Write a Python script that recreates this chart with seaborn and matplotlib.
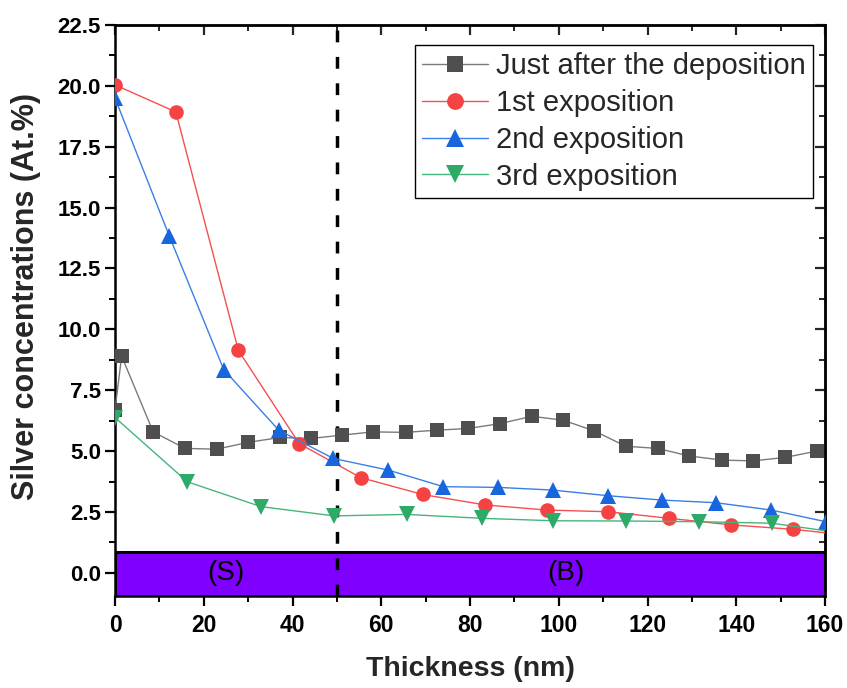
import matplotlib
matplotlib.use("Agg")
import matplotlib.pyplot as plt
import seaborn as sns
from matplotlib.ticker import MultipleLocator

# ---- data ----
x_dep = [0, 1.5, 8.6, 15.8, 22.9, 30.0, 37.2, 44.2, 51.2, 58.2, 65.5, 72.5,
         79.6, 86.8, 93.9, 101.0, 108.0, 115.1, 122.3, 129.4, 136.9, 143.8, 151.0, 158.1]
y_dep = [6.7, 8.9, 5.79, 5.11, 5.08, 5.36, 5.56, 5.52, 5.66, 5.79, 5.77, 5.86,
         5.93, 6.13, 6.43, 6.27, 5.83, 5.20, 5.11, 4.80, 4.63, 4.60, 4.74, 5.00]

x_1st = [0, 13.7, 27.8, 41.5, 55.4, 69.3, 83.4, 97.3, 111.2, 124.9, 138.9, 152.7, 166.6]
y_1st = [20.04, 18.93, 9.14, 5.31, 3.91, 3.22, 2.79, 2.58, 2.51, 2.24, 1.97, 1.79, 1.52]

x_2nd = [0, 12.2, 24.5, 36.9, 49.2, 61.6, 74.0, 86.4, 98.6, 111.0, 123.2, 135.5, 147.9, 160.2]
y_2nd = [19.5, 13.85, 8.35, 5.86, 4.70, 4.22, 3.54, 3.51, 3.40, 3.17, 2.99, 2.88, 2.58, 2.10]

x_3rd = [0, 16.3, 32.9, 49.4, 65.7, 82.7, 98.8, 115.2, 131.7, 148.0, 164.4]
y_3rd = [6.38, 3.74, 2.72, 2.34, 2.40, 2.24, 2.14, 2.13, 2.10, 2.04, 1.62]

labels = ["Just after the deposition", "1st exposition", "2nd exposition", "3rd exposition"]
x_ticks = [0, 20, 40, 60, 80, 100, 120, 140, 160]
y_ticks = [0.0, 2.5, 5.0, 7.5, 10.0, 12.5, 15.0, 17.5, 20.0, 22.5]
boundary_x = 50
band_top = 0.87
region_labels = ["(S)", "(B)"]
region_x = [25, 101.5]

sns.set_theme(style="ticks")
plt.rcParams["font.family"] = ["Liberation Sans", "DejaVu Sans"]

fig = plt.figure(figsize=(8.47, 6.88), dpi=100)
ax = fig.add_axes([115 / 847, (688 - 596) / 688, 710 / 847, 571 / 688])

series = [
    (x_dep, y_dep, "s", "#4f4f4f", "#7a7a7a", 9.5),
    (x_1st, y_1st, "o", "#f54242", "#f55050", 10.5),
    (x_2nd, y_2nd, "^", "#1766dd", "#3a7fe6", 11.5),
    (x_3rd, y_3rd, "v", "#2eaa68", "#45b57a", 11.5),
]
for (xs, ys, mk, mc, lc, ms), lab in zip(series, labels):
    sns.lineplot(x=xs, y=ys, ax=ax, color=lc, linewidth=1.0, marker=mk,
                 markersize=ms, markerfacecolor=mc, markeredgecolor=mc,
                 markeredgewidth=0, label=lab, zorder=3, sort=False)

ax.axhspan(-2, band_top, facecolor="#8000ff", edgecolor="black", lw=2.2, zorder=1)
ax.axvline(boundary_x, color="black", lw=2.5, ls=(0, (3.4, 4.2)), zorder=2)
for t, xx in zip(region_labels, region_x):
    ax.text(xx, 0.0, t, ha="center", va="center", fontsize=20, color="black", zorder=4)

ax.set_xlim(0, 160)
ax.set_ylim(-0.95, 22.5)
ax.set_xticks(x_ticks)
ax.set_yticks(y_ticks)
ax.set_yticklabels([f"{v:.1f}" for v in y_ticks])
ax.xaxis.set_minor_locator(MultipleLocator(10))
ax.yaxis.set_minor_locator(MultipleLocator(1.25))
ax.tick_params(which="major", direction="out", length=7, width=1.6, colors="black")
ax.tick_params(which="minor", direction="out", length=4, width=1.4, colors="black")
ax.tick_params(axis="x", labelsize=16.5, pad=6)
ax.tick_params(axis="y", labelsize=16, pad=3)
for lbl in ax.get_xticklabels() + ax.get_yticklabels():
    lbl.set_fontweight("bold")
for sp in ax.spines.values():
    sp.set_visible(True)
    sp.set_linewidth(1.8)
    sp.set_color("black")

# mirrored inward ticks on top and right
top = ax.secondary_xaxis("top")
top.set_xticks(x_ticks)
top.xaxis.set_minor_locator(MultipleLocator(10))
top.tick_params(which="major", direction="in", length=7, width=1.6, labeltop=False)
top.tick_params(which="minor", direction="in", length=4, width=1.4)
top.spines["top"].set_linewidth(1.8)
right = ax.secondary_yaxis("right")
right.set_yticks(y_ticks)
right.yaxis.set_minor_locator(MultipleLocator(1.25))
right.tick_params(which="major", direction="in", length=7, width=1.6, labelright=False)
right.tick_params(which="minor", direction="in", length=4, width=1.4)
right.spines["right"].set_linewidth(1.8)

ax.set_xlabel("Thickness (nm)", fontsize=20.5, fontweight="bold", labelpad=14)
ax.set_ylabel("Silver concentrations (At.%)", fontsize=22, fontweight="bold")
ax.yaxis.set_label_coords(-0.104, 0.525)

leg = ax.legend(loc="upper right", bbox_to_anchor=(0.983, 0.965), borderaxespad=0,
                fontsize=21, frameon=True, fancybox=False, edgecolor="black",
                framealpha=1, labelspacing=0.3, handlelength=2.25,
                handletextpad=0.28, borderpad=0.25, markerscale=1.15)
leg.get_frame().set_linewidth(1.0)

fig.savefig("out.png", dpi=100)
